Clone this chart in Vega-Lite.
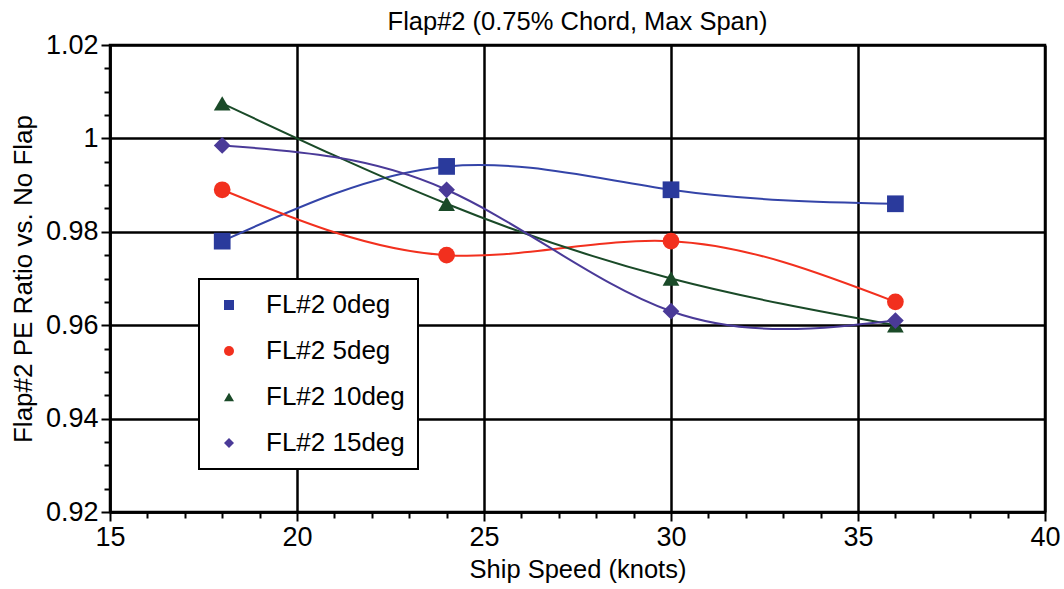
{
  "$schema": "https://vega.github.io/schema/vega-lite/v6.json",
  "width": 935,
  "height": 467,
  "autosize": {"type": "none"},
  "padding": {"left": 110, "top": 45, "right": 19, "bottom": 77},
  "background": "white",
  "config": {
    "font": "Liberation Sans",
    "view": {"stroke": "black", "strokeWidth": 2.5},
    "axis": {"domainColor": "black", "domainWidth": 2.5, "tickColor": "black", "tickWidth": 2, "labelColor": "black", "titleColor": "black", "titleFontWeight": "normal"},
    "legend": {
      "orient": "none", "legendX": 89, "legendY": 234,
      "strokeColor": "black", "strokeWidth": 2, "fillColor": "white", "padding": 13,
      "labelFontSize": 26, "labelColor": "black", "symbolSize": 100,
      "rowPadding": 20, "labelOffset": 24, "symbolOffset": 4, "labelLimit": 300
    }
  },
  "title": {"text": "Flap#2 (0.75% Chord, Max Span)", "fontSize": 25.5, "fontWeight": "normal", "color": "black", "offset": -4},
  "data": {
    "values": [
      {"speed": 18, "ratio": 0.978, "series": "FL#2 0deg"},
      {"speed": 24, "ratio": 0.994, "series": "FL#2 0deg"},
      {"speed": 30, "ratio": 0.989, "series": "FL#2 0deg"},
      {"speed": 36, "ratio": 0.986, "series": "FL#2 0deg"},
      {"speed": 18, "ratio": 0.989, "series": "FL#2 5deg"},
      {"speed": 24, "ratio": 0.975, "series": "FL#2 5deg"},
      {"speed": 30, "ratio": 0.978, "series": "FL#2 5deg"},
      {"speed": 36, "ratio": 0.965, "series": "FL#2 5deg"},
      {"speed": 18, "ratio": 1.0075, "series": "FL#2 10deg"},
      {"speed": 24, "ratio": 0.986, "series": "FL#2 10deg"},
      {"speed": 30, "ratio": 0.970, "series": "FL#2 10deg"},
      {"speed": 36, "ratio": 0.960, "series": "FL#2 10deg"},
      {"speed": 18, "ratio": 0.9985, "series": "FL#2 15deg"},
      {"speed": 24, "ratio": 0.989, "series": "FL#2 15deg"},
      {"speed": 30, "ratio": 0.963, "series": "FL#2 15deg"},
      {"speed": 36, "ratio": 0.961, "series": "FL#2 15deg"}
    ]
  },
  "encoding": {
    "x": {
      "field": "speed", "type": "quantitative",
      "scale": {"domain": [15, 40], "nice": false, "zero": false},
      "axis": {
        "title": "Ship Speed (knots)", "titleFontSize": 25.5, "titlePadding": 7,
        "values": [15,16,17,18,19,20,21,22,23,24,25,26,27,28,29,30,31,32,33,34,35,36,37,38,39,40],
        "labelExpr": "datum.value % 5 === 0 ? datum.label : ''",
        "labelFontSize": 27, "labelPadding": 3, "labelFlush": false,
        "tickSize": {"condition": {"test": "datum.value % 5 === 0", "value": 9}, "value": 6},
        "grid": true, "gridWidth": 2.5,
        "gridColor": {"condition": {"test": "datum.value % 5 === 0", "value": "black"}, "value": "transparent"}
      }
    },
    "y": {
      "field": "ratio", "type": "quantitative",
      "scale": {"domain": [0.92, 1.02], "nice": false, "zero": false},
      "axis": {
        "title": "Flap#2 PE Ratio vs. No Flap", "titleFontSize": 26, "titlePadding": 9,
        "values": [0.92,0.925,0.93,0.935,0.94,0.945,0.95,0.955,0.96,0.965,0.97,0.975,0.98,0.985,0.99,0.995,1.0,1.005,1.01,1.015,1.02],
        "labelExpr": "abs(round(datum.value*1000)) % 20 === 0 ? format(datum.value, '.2~f') : ''",
        "labelFontSize": 27, "labelPadding": 3,
        "tickSize": {"condition": {"test": "abs(round(datum.value*1000)) % 20 === 0", "value": 9}, "value": 6},
        "grid": true, "gridWidth": 2.5,
        "gridColor": {"condition": {"test": "abs(round(datum.value*1000)) % 20 === 0", "value": "black"}, "value": "transparent"}
      }
    }
  },
  "layer": [
    {
      "mark": {"type": "line", "interpolate": "natural", "strokeWidth": 2},
      "encoding": {
        "stroke": {
          "field": "series", "type": "nominal",
          "scale": {"domain": ["FL#2 15deg", "FL#2 10deg", "FL#2 5deg", "FL#2 0deg"], "range": ["#4a3a98", "#1a4a28", "#f2301e", "#3444a8"]},
          "legend": null
        }
      }
    },
    {
      "mark": {"type": "point", "filled": true, "opacity": 1, "size": 280},
      "encoding": {
        "color": {
          "field": "series", "type": "nominal",
          "scale": {"domain": ["FL#2 0deg", "FL#2 5deg", "FL#2 10deg", "FL#2 15deg"], "range": ["#2a3a9c", "#f2301e", "#1a4a28", "#4a3a98"]},
          "title": null
        },
        "shape": {
          "field": "series", "type": "nominal",
          "scale": {"domain": ["FL#2 0deg", "FL#2 5deg", "FL#2 10deg", "FL#2 15deg"], "range": ["square", "circle", "triangle-up", "diamond"]},
          "title": null
        }
      }
    }
  ]
}
